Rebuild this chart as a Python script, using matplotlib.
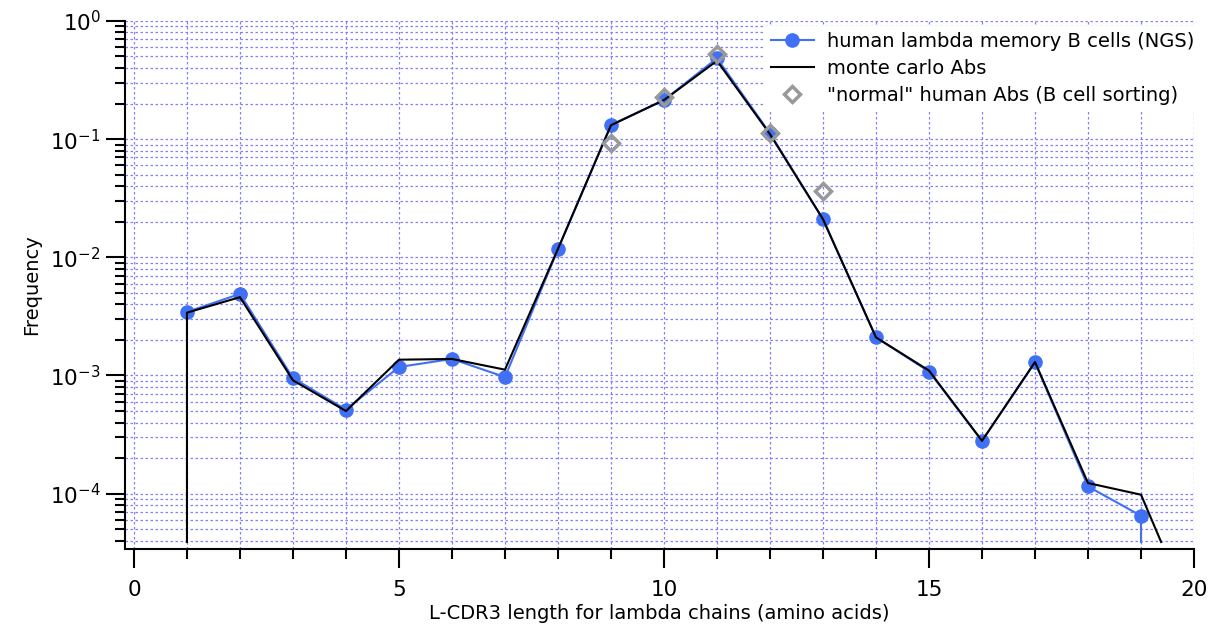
import numpy as np
import matplotlib.pyplot as plt
from matplotlib.ticker import LogLocator, MultipleLocator, NullFormatter

# L-CDR3 length (amino acids)
length = [1, 2, 3, 4, 5, 6, 7, 8, 9, 10, 11, 12, 13, 14, 15, 16, 17, 18, 19]

# human lambda memory B cells (NGS)
ngs = [3.45e-3, 4.9e-3, 9.5e-4, 5.15e-4, 1.18e-3, 1.38e-3, 9.7e-4, 1.17e-2,
       0.132, 0.214, 0.483, 0.112, 2.1e-2, 2.1e-3, 1.08e-3, 2.8e-4, 1.29e-3,
       1.15e-4, 6.5e-5]
ngs_tail_x = [19, 19]
ngs_tail_y = [6.5e-5, 3.9e-5]

# monte carlo Abs
mc_x = [1, 1, 2, 3, 4, 5, 6, 7, 8, 9, 10, 11, 12, 13, 14, 15, 16, 17, 18, 19, 19.38]
mc_y = [3.9e-5, 3.4e-3, 4.6e-3, 9.1e-4, 5.0e-4, 1.36e-3, 1.38e-3, 1.12e-3, 1.18e-2,
        0.131, 0.214, 0.46, 0.11, 2.1e-2, 2.1e-3, 1.1e-3, 2.8e-4, 1.3e-3,
        1.23e-4, 9.8e-5, 3.9e-5]

# "normal" human Abs (B cell sorting)
sort_x = [9, 10, 11, 12, 13]
sort_y = [0.092, 0.228, 0.522, 0.112, 0.0365]

blue = '#4070f4'

fig = plt.figure(figsize=(12.19, 6.34), dpi=100)
ax = fig.add_axes([0.1025, 0.134, 0.877, 0.833])

ax.plot(ngs_tail_x, ngs_tail_y, color=blue, lw=1.5, zorder=3)
ax.plot(length, ngs, color=blue, lw=1.5, marker='o', ms=9.5,
        label='human lambda memory B cells (NGS)', zorder=3)
ax.plot(mc_x, mc_y, color='black', lw=1.5, label='monte carlo Abs', zorder=4)
ax.plot(sort_x, sort_y, ls='none', marker='D', ms=8.5, mfc='none', mec='#999999',
        mew=2.5, label='"normal" human Abs (B cell sorting)', zorder=5)

ax.set_yscale('log')
ax.set_ylim(3.4e-5, 1)
ax.set_xlim(-0.17, 20)

ax.xaxis.set_major_locator(MultipleLocator(5))
ax.xaxis.set_minor_locator(MultipleLocator(1))
ax.yaxis.set_major_locator(LogLocator(base=10, numticks=10))
ax.yaxis.set_minor_locator(LogLocator(base=10, subs=np.arange(2, 10), numticks=10))
ax.yaxis.set_minor_formatter(NullFormatter())

ax.grid(True, which='both', color='#8080ff', ls=(0, (2, 2)), lw=0.9)
ax.set_axisbelow(True)

for s in ['top', 'right']:
    ax.spines[s].set_visible(False)
ax.spines['left'].set_linewidth(1.5)
ax.spines['bottom'].set_linewidth(1.5)

ax.tick_params(which='major', direction='out', length=14, width=1.5, labelsize=15.5)
ax.tick_params(which='minor', direction='out', length=7, width=1.5)
ax.tick_params(axis='x', pad=8)

ax.set_xlabel('L-CDR3 length for lambda chains (amino acids)', fontsize=14, labelpad=3)
ax.set_ylabel('Frequency', fontsize=14, labelpad=6)

leg = ax.legend(loc='upper right', bbox_to_anchor=(1.006, 0.99), fontsize=14,
                frameon=True, fancybox=False, edgecolor='none',
                facecolor='white', framealpha=1, handlelength=2.2,
                handletextpad=0.7, borderaxespad=0.0, borderpad=0.3,
                labelspacing=0.4)
leg.set_zorder(2.5)

fig.savefig('out.png', dpi=100)
